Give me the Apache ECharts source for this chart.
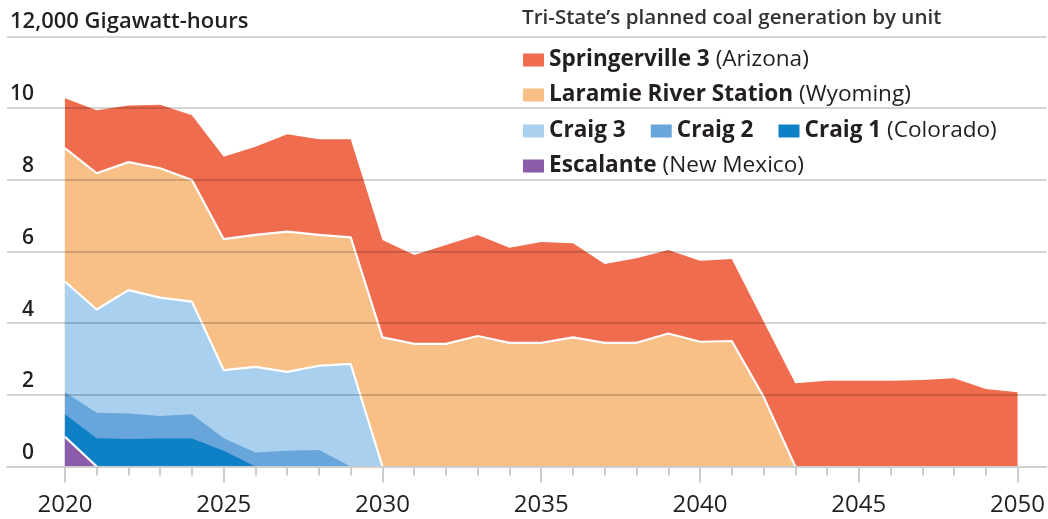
<!DOCTYPE html>
<html>
<head>
<meta charset="utf-8">
<script src="https://cdn.jsdelivr.net/npm/echarts@6.0.0/dist/echarts.min.js"></script>
<style>
html, body { margin: 0; padding: 0; background: #fff; }
#main { width: 1048px; height: 519px; }
</style>
</head>
<body>
<div id="main"></div>
<script>
// years on the x axis
var years = [2020, 2021, 2022, 2023, 2024, 2025, 2026, 2027, 2028, 2029,
  2030, 2031, 2032, 2033, 2034, 2035, 2036, 2037, 2038, 2039,
  2040, 2041, 2042, 2043, 2044, 2045, 2046, 2047, 2048, 2049, 2050];
var labelYears = [2020, 2025, 2030, 2035, 2040, 2045, 2050];
var yTicks = [0, 2000, 4000, 6000, 8000, 10000];

// generation per unit, GWh (each series starts at 2020)
var escalante = [830, 0];
var craig1 = [630, 790, 770, 780, 780, 440, 0];
var craig2 = [610, 710, 710, 630, 680, 350, 390, 440, 460, 0];
var craig3 = [3090, 2880, 3440, 3300, 3140, 1900, 2390, 2200, 2350, 2860, 0];
var laramie = [3720, 3800, 3570, 3610, 3390, 3650, 3680, 3910, 3650, 3530,
  3600, 3420, 3420, 3640, 3450, 3450, 3600, 3450, 3450, 3710,
  3480, 3500, 1950, 0];
var springerville = [1390, 1760, 1580, 1770, 1810, 2300, 2460, 2720, 2670, 2740,
  2720, 2480, 2760, 2820, 2650, 2810, 2630, 2200, 2360, 2330,
  2260, 2290, 2100, 2320, 2390, 2390, 2390, 2410, 2460, 2160, 2070];

var units = ['Springerville 3', 'Laramie River Station', 'Craig 3', 'Craig 2', 'Craig 1', 'Escalante'];
var places = {
  'Springerville 3': '(Arizona)',
  'Laramie River Station': '(Wyoming)',
  'Craig 1': '(Colorado)',
  'Escalante': '(New Mexico)'
};

// bottom to top
var stackOrder = [escalante, craig1, craig2, craig3, laramie, springerville];

var myChart = echarts.init(document.getElementById('main'));

// running total of a layer and everything under it, as [year, total]
function cumulative (level) {
  var own = stackOrder[level];
  return own.map(function (v, i) {
    var sum = 0;
    for (var k = 0; k <= level; k++) {
      sum += stackOrder[k][i] || 0;
    }
    return [years[i], sum];
  });
}

function makeSeries (name, level, color, lineColor) {
  return {
    name: name,
    type: 'line',
    z: 3 + (stackOrder.length - level), // lower layers painted over upper ones
    data: cumulative(level),
    showSymbol: false,
    symbol: 'none',
    itemStyle: { color: color },
    lineStyle: lineColor ? { color: lineColor, width: 2.2 } : { width: 0, color: color },
    areaStyle: { color: color, opacity: 1 },
    emphasis: { disabled: true }
  };
}

var txt = '#231f20';
var lf = 22.6;
var legendText = {
  fontFamily: 'Open Sans',
  fontSize: lf,
  color: txt,
  lineHeight: 26,
  rich: {
    b: { fontFamily: 'Open Sans', fontSize: lf, fontWeight: 'bold', color: txt },
    r: { fontFamily: 'Open Sans', fontSize: lf, fontWeight: 'normal', color: txt }
  }
};
function legendFmt (name) {
  return places[name] ? '{b|' + name + '} {r|' + places[name] + '}' : '{b|' + name + '}';
}
function legendAt (names, top) {
  return {
    data: names.map(function (n) { return { name: n, icon: 'rect' }; }),
    left: 523,
    top: top,
    padding: 0,
    itemWidth: 21,
    itemHeight: 13,
    itemGap: 25,
    selectedMode: false,
    formatter: legendFmt,
    textStyle: legendText
  };
}

var tickStyle = { color: '#cccccc', width: 2 };
var baseLine = { show: true, onZero: false, lineStyle: { color: '#cfcfcf', width: 1.5 } };

var option = {
  animation: false,
  backgroundColor: '#fff',
  textStyle: { fontFamily: 'Open Sans' },
  title: [
    {
      text: 'Tri-State\u2019s planned coal generation by unit',
      left: 522, top: 8, padding: 0,
      textStyle: { fontFamily: 'Open Sans', fontSize: 20.6, fontWeight: 600, color: '#333' }
    },
    {
      text: '12,000 Gigawatt-hours',
      left: 10, top: 11, padding: 0,
      textStyle: { fontFamily: 'Open Sans', fontSize: 22, fontWeight: 600, color: txt }
    }
  ],
  legend: [
    legendAt([units[0]], 47),
    legendAt([units[1]], 82),
    legendAt([units[2], units[3], units[4]], 118),
    legendAt([units[5]], 153)
  ],
  // full width so the rules run past the plot; 2020 sits at x=65, 2050 at x=1019
  grid: { left: 7, right: 0, top: 36.3, bottom: 52.5 },
  xAxis: [
    {
      type: 'value',
      min: 2018.176,
      max: 2050.912,
      z: 11,
      axisLine: baseLine,
      splitLine: { show: false },
      axisTick: { show: true, inside: false, customValues: labelYears, length: 16, lineStyle: tickStyle },
      axisLabel: {
        show: true, customValues: labelYears, fontSize: 24, margin: 27, color: txt, fontFamily: 'Open Sans',
        formatter: function (v) { return String(v); }
      }
    },
    {
      type: 'value',
      min: 2018.176,
      max: 2050.912,
      position: 'bottom',
      z: 11,
      axisLine: baseLine,
      splitLine: { show: false },
      axisTick: { show: true, inside: false, customValues: years, length: 9, lineStyle: tickStyle },
      axisLabel: { show: false }
    }
  ],
  yAxis: {
    type: 'value',
    min: 0,
    max: 12000,
    interval: 2000,
    z: 10,
    axisLine: { show: false },
    axisTick: { show: false },
    splitLine: { lineStyle: { color: 'rgba(0,0,0,0.22)', width: 1.5 } },
    axisLabel: {
      inside: true,
      align: 'right',
      verticalAlign: 'bottom',
      margin: 27,
      padding: [0, 0, 3, 0],
      fontSize: 21,
      fontWeight: 600,
      color: txt,
      fontFamily: 'Open Sans',
      customValues: yTicks,
      formatter: function (v) { return String(v / 1000); }
    }
  },
  series: [
    makeSeries('Escalante', 0, '#8b5ca9', '#fff'),
    makeSeries('Craig 1', 1, '#0e80c6', null),
    makeSeries('Craig 2', 2, '#68a5da', null),
    makeSeries('Craig 3', 3, '#a9d0ee', '#fff'),
    makeSeries('Laramie River Station', 4, '#f8bf86', '#fff'),
    makeSeries('Springerville 3', 5, '#f06c4e', null)
  ]
};

myChart.setOption(option);
</script>
</body>
</html>
